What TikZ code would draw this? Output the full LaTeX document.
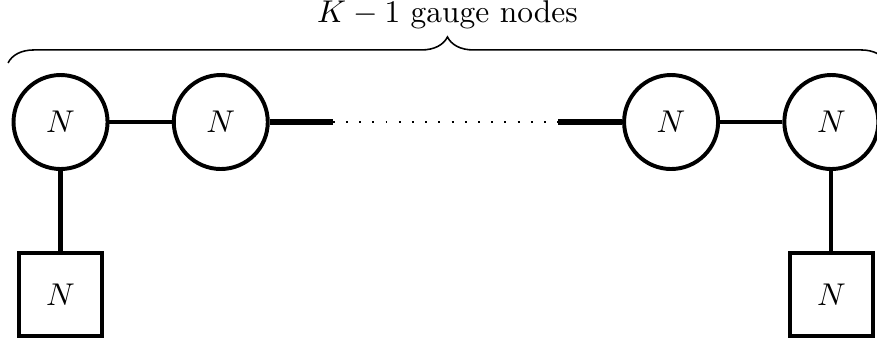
\documentclass[tikz,border=0pt]{standalone}
\usepackage{amsmath}
\usepackage{tikz}
\usetikzlibrary{
    decorations.pathreplacing,
    positioning
}

\begin{document}
\begin{tikzpicture}[
    gauge/.style={circle, draw, line width=1.25pt, minimum size=1.05cm, inner sep=0pt},
    flavor/.style={rectangle, draw, line width=1.25pt, minimum size=0.925cm, inner sep=0pt},
    link/.style={line width=1.3pt},
    stub/.style={line width=1.7pt}
]
    \useasboundingbox (-0.676,-2.469) rectangle (9.12,1.363);
    % gauge nodes
    \node[gauge] (g1) at (0,0) {$N$};
    \node[gauge] (g2) at (1.79,0) {$N$};
    \node[gauge] (g3) at (6.82,0) {$N$};
    \node[gauge] (g4) at (8.61,0) {$N$};
    % flavour nodes
    \node[flavor] (f1) at (0,-1.93) {$N$};
    \node[flavor] (f4) at (8.61,-1.93) {$N$};
    \coordinate (sL) at (3.04,0);
    \coordinate (sR) at (5.56,0);
    \draw[link] (g1) -- (g2);
    \draw[stub] (g2) -- (sL);
    \draw[line width=0.6pt, dash pattern=on 0.6pt off 3.6pt] (sL) -- (sR);
    \draw[stub] (sR) -- (g3);
    \draw[link] (g3) -- (g4);
    \draw[link] (g1) -- (f1);
    \draw[link] (g4) -- (f4);
    % brace over the chain
    \coordinate (bL) at (-0.586,0.66);
    \coordinate (bR) at (9.23,0.66);
    \draw[line width=0.5pt, decorate, decoration={brace, amplitude=0.29cm}] (bL) -- (bR)
        node[midway, above=0.35cm, inner sep=0.5pt] (lbl) {$K-1$ gauge nodes};
\end{tikzpicture}
\end{document}
